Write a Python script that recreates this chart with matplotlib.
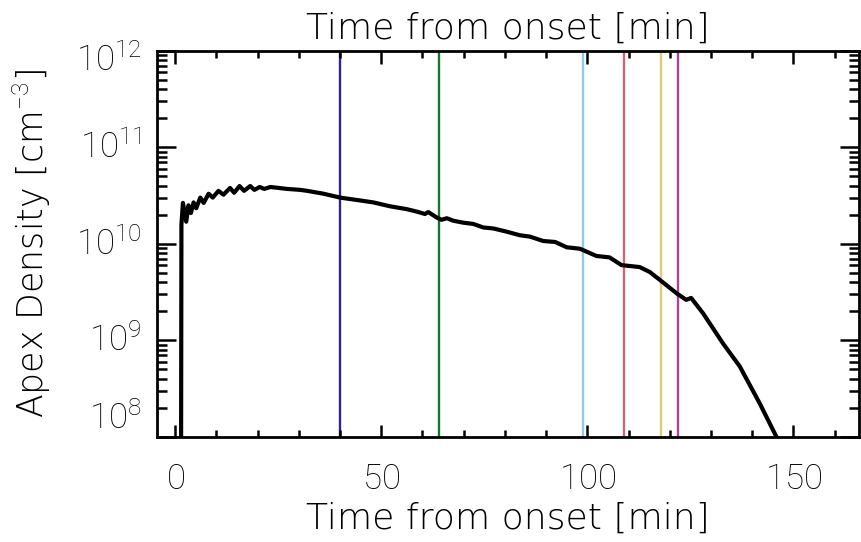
import numpy as np
import matplotlib
matplotlib.use("Agg")
import matplotlib.pyplot as plt
from matplotlib.ticker import LogLocator, MultipleLocator, NullFormatter, FuncFormatter

plt.rcParams['font.family'] = ['DejaVu Sans']
plt.rcParams['font.weight'] = 200
plt.rcParams['axes.labelweight'] = 200
plt.rcParams['mathtext.fontset'] = 'custom'
plt.rcParams['mathtext.rm'] = 'Roboto:light'

# apex density vs time (log10 of cm^-3)
time_min = [1.35, 1.5, 1.86, 2.67, 3.2, 3.8, 4.45, 5.1, 6.07, 6.9, 8.1, 9.1,
            10.5, 11.7, 13.3, 14.3, 15.6, 16.7, 18.2, 19.2, 20.5, 21.6, 23.1,
            27.1, 30.3, 32.0, 36.0, 40.0, 44.1, 48.1, 52.1, 56.2, 58.6, 60.6,
            61.4, 63.4, 64.6, 65.9, 67.5, 69.9, 72.3, 74.8, 77.2, 80.4, 83.6,
            86.1, 89.3, 92.2, 95.0, 98.2, 99.8, 102.2, 105.4, 108.3, 112.7,
            115.1, 117.6, 121.6, 124.0, 125.2, 128.1, 132.9, 137.0, 141.8,
            145.9, 147.0]
log_density = [6.0, 10.2, 10.425, 10.23, 10.40, 10.32, 10.43, 10.37, 10.48, 10.425,
               10.52, 10.48, 10.55, 10.51, 10.58, 10.53, 10.60, 10.55, 10.60,
               10.56, 10.59, 10.57, 10.59, 10.57, 10.56, 10.55, 10.52, 10.48,
               10.455, 10.43, 10.39, 10.36, 10.335, 10.31, 10.33, 10.275, 10.25,
               10.266, 10.24, 10.22, 10.207, 10.17, 10.16, 10.127, 10.09, 10.075,
               10.03, 10.02, 9.965, 9.95, 9.92, 9.875, 9.86, 9.78, 9.76, 9.71,
               9.627, 9.49, 9.42, 9.44, 9.28, 8.97, 8.73, 8.35, 8.0, 7.9]
density = 10.0 ** np.array(log_density)

# times of the marked snapshots and their colours
marker_times = [40, 64, 99, 109, 118, 122]
marker_colors = ['#332288', '#117733', '#88CCEE', '#CC6677', '#DDCC77', '#AA4499']

# decades labelled on the y axis
y_decades = [8, 9, 10, 11, 12]

fig = plt.figure(figsize=(8.61, 5.42), dpi=100)
ax = fig.add_axes([0.182, 0.194, 0.816, 0.712])

for t, c in zip(marker_times, marker_colors):
    ax.axvline(t, color=c, lw=1.7, zorder=1)
ax.plot(time_min, density, color='black', lw=3.0, zorder=2)

ax.set_yscale('log')
ax.set_xlim(-4.5, 166)
ax.set_ylim(1e8, 1e12)

ax.xaxis.set_major_locator(MultipleLocator(50))
ax.xaxis.set_minor_locator(MultipleLocator(10))
ax.xaxis.set_major_formatter(FuncFormatter(lambda v, pos: r'$\mathrm{%d}$' % v))
ax.yaxis.set_major_locator(LogLocator(base=10, numticks=10))
ax.yaxis.set_minor_locator(LogLocator(base=10, subs=np.arange(2, 10), numticks=10))
ax.yaxis.set_minor_formatter(NullFormatter())
ax.yaxis.set_major_formatter(NullFormatter())

ax.tick_params(axis='both', which='both', direction='in', width=1.8,
               top=True, right=True, labelsize=25)
ax.tick_params(axis='x', which='major', length=9, pad=18)
ax.tick_params(axis='x', which='minor', length=5)
ax.tick_params(axis='y', which='major', length=14)
ax.tick_params(axis='y', which='minor', length=7)
for s in ax.spines.values():
    s.set_linewidth(2.0)

# y tick labels; the two end ones are kept inside the frame height
for d in y_decades:
    dy = -6.5 if d == y_decades[-1] else (13.5 if d == y_decades[0] else 0)
    ax.annotate(r'$\mathrm{10^{%d}}$' % d, xy=(0, 10.0 ** d),
                xycoords=('axes fraction', 'data'), xytext=(-11, dy),
                textcoords='offset points', ha='right', va='center', fontsize=25)

ax.set_xlabel('Time from onset [min]', fontsize=26, labelpad=4)
ax.set_ylabel('Apex Density [cm$^{-3}$]', fontsize=25)
ax.yaxis.set_label_coords(-0.148, 0.5)

top = ax.secondary_xaxis('top')
top.set_xlabel('Time from onset [min]', fontsize=26, labelpad=9)
top.tick_params(which='both', length=0, labeltop=False)

fig.savefig('out.png', dpi=100)
